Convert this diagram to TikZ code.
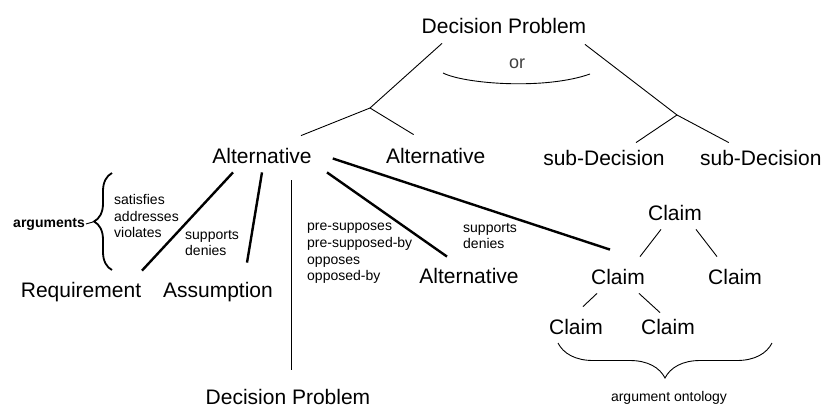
\documentclass[tikz,border=0pt]{standalone}
\usepackage{fontspec}
\setmainfont{Liberation Sans}
\usetikzlibrary{calc,positioning,decorations.pathreplacing}

\begin{document}
\begin{tikzpicture}[x=1pt, y=-1pt,
    big/.style={font=\fontsize{21}{24}\selectfont, inner sep=0pt, anchor=base},
    lbl/.style={font=\fontsize{14}{16.7}\selectfont, inner sep=0pt, align=left, anchor=north west},
    link/.style={line width=0.9pt},
    heavy/.style={line width=2.4pt}]
        \useasboundingbox[fill=white] (0,0) rectangle (824,408);

        %% Decision problem with alternatives and sub-decisions
        \node[big] (dp) at (504,33) {Decision Problem};
        \node[big] (alt1) at (262,163) {Alternative};
        \node[big, base right=74pt of alt1] (alt2) {Alternative};
        \node[big] (sub1) at (604,165) {sub-Decision};
        \node[big, base right=35pt of sub1] (sub2) {sub-Decision};
        \node[font=\fontsize{18}{20}\selectfont, text=black!75, anchor=base] (or) at (517,68) {or};

        \coordinate (j1) at (370,108);
        \coordinate (j2) at (677,115);

        \draw[link] ($(dp.south)+(-62,10)$) -- (j1);
        \draw[link] (j1) -- ($(alt1.north)+(39,-12)$);
        \draw[link] (j1) -- ($(alt2.north)+(-22,-13)$);
        \draw[link] ($(dp.south)+(81,11)$) -- (j2);
        \draw[link] (j2) -- ($(sub1.north)+(32,-7)$);
        \draw[link] (j2) -- ($(sub2.north)+(-32,-7)$);
        \draw[link] (443,73) .. controls (465,84) and (545,90) .. (590,74);

        %% Arguments of the alternative
        \node[big] (req) at (81,297) {Requirement};
        \node[big] (ass) at (218,297) {Assumption};
        \node[big] (alt3) at (469,283) {Alternative};
        \node[big] (dp2) at (288,404) {Decision Problem};

        \node[lbl] (rel1) at (114,194) {satisfies\\addresses\\violates};
        \node[lbl] (rel2) at (185,230) {supports\\denies};
        \node[lbl] (rel3) at (307,223) {pre-supposes\\pre-supposed-by\\opposes\\opposed-by};
        \node[lbl] (rel4) at (463,223) {supports\\denies};
        \node[font=\bfseries\fontsize{14}{16}\selectfont, inner sep=1pt, anchor=base east] (args) at (86,227) {arguments};

        \coordinate (btip) at (93,222);
        \draw[line width=1.8pt, decorate, decoration={brace, amplitude=18pt}] (112,270) -- (112,173);
        \draw[link] (args.east) -- (btip);

        \draw[heavy] ($(alt1.south)+(-29,9)$) -- ($(req.north)+(61,-11)$);
        \draw[heavy] ($(alt1.south)+(0,9)$) -- ($(ass.north)+(29,-19)$);
        \draw[heavy] ($(alt1.south)+(65,9)$) -- ($(alt3.north)+(-22,-11)$);
        \draw[link] ($(alt1.south)+(29,17)$) -- ($(dp2.north)+(3,-19)$);

        %% Claims
        \node[big] (ct) at (675,220) {Claim};
        \node[big] (cm) at (618,284) {Claim};
        \node[big] (cr) at (735,284) {Claim};
        \node[big] (cbl) at (576,334) {Claim};
        \node[big] (cbm) at (668,334) {Claim};

        \draw[heavy] ($(alt1.east)+(21,3)$) -- ($(cm.north)+(-8,-19)$);
        \draw[link] ($(ct.south)+(-14,9)$) -- ($(cm.north)+(22,-12)$);
        \draw[link] ($(ct.south)+(21,9)$) -- ($(cr.north)+(-18,-12)$);
        \draw[link] ($(cm.south)+(-21,9)$) -- ($(cbl.north)+(7,-12)$);
        \draw[link] ($(cm.south)+(21,9)$) -- ($(cbm.north)+(-8,-6)$);

        \draw[link, decorate, decoration={brace, amplitude=35pt}] (772,343) -- (558,343);
        \node[font=\fontsize{14}{16}\selectfont, inner sep=0pt, anchor=base] (onto) at (669,401) {argument ontology};
\end{tikzpicture}
\end{document}
